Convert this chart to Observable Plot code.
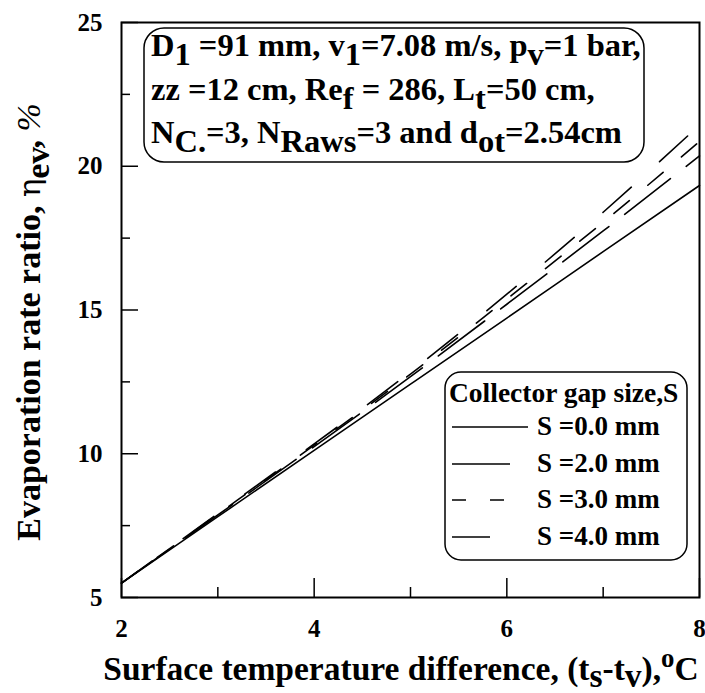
<!DOCTYPE html>
<html>
<head>
<meta charset="utf-8">
<script src="https://cdn.jsdelivr.net/npm/d3@7"></script>
<script src="https://cdn.jsdelivr.net/npm/@observablehq/plot@0.6"></script>
<style>
  html, body { margin: 0; padding: 0; background: #fff; }
  svg { display: block; }
</style>
</head>
<body>
<div id="chart"></div>
<script>
// ---- data ----
const temps = [2, 3, 4, 5, 6, 7, 8];
const gapS00 = [5.5, 7.81, 10.12, 12.42, 14.72, 17.03, 19.33];
const gapS20 = [5.5, 7.87, 10.25, 12.68, 15.2, 17.75, 20.36];
const gapS30 = [5.5, 7.9, 10.3, 12.77, 15.38, 18.05, 20.86];
const gapS40 = [5.5, 7.92, 10.34, 12.85, 15.55, 18.4, 21.43];
const seriesNames = ["S =0.0 mm", "S =2.0 mm", "S =3.0 mm", "S =4.0 mm"];
const xTicks = [2, 4, 6, 8];
const xMinorTicks = [3, 5, 7];
const yTicks = [5, 10, 15, 20, 25];
const yMinorTicks = [7.5, 12.5, 17.5, 22.5];

const toRows = (vals) => temps.map((t, i) => ({t, v: vals[i]}));

const W = 705, H = 693;
const mL = 121, mR = 6, mT = 22, mB = 96;
const plotW = W - mL - mR, plotH = H - mT - mB;
const FONT = "'Liberation Serif', 'Times New Roman', Times, serif";

const lineOpts = {x: "t", y: "v", stroke: "black", strokeWidth: 1.6, curve: "natural"};

const chart = Plot.plot({
  width: W, height: H,
  marginLeft: mL, marginRight: mR, marginTop: mT, marginBottom: mB,
  style: {fontFamily: FONT, fontWeight: "bold", fontSize: "25px", background: "#fff", color: "black"},
  x: {domain: [2, 8]},
  y: {domain: [5, 25]},
  marks: [
    Plot.line(toRows(gapS00), {...lineOpts}),
    Plot.line(toRows(gapS20), {...lineOpts, strokeDasharray: "58,20"}),
    Plot.line(toRows(gapS30), {...lineOpts, strokeDasharray: "20,24"}),
    Plot.line(toRows(gapS40), {...lineOpts, strokeDasharray: "38,38"}),
    Plot.ruleX(xTicks, {insetTop: plotH - 19, stroke: "black", strokeWidth: 1.5}),
    Plot.ruleX(xMinorTicks, {insetTop: plotH - 10, stroke: "black", strokeWidth: 1.5}),
    Plot.ruleY(yTicks, {insetRight: plotW - 17, stroke: "black", strokeWidth: 1.5}),
    Plot.ruleY(yMinorTicks, {insetRight: plotW - 9, stroke: "black", strokeWidth: 1.5}),
    Plot.axisX({ticks: xTicks, tickFormat: d => String(d), tickSize: 0, tickPadding: 22, label: null, fontSize: 25, fontWeight: "bold"}),
    Plot.axisY({ticks: yTicks, tickFormat: d => String(d), tickSize: 0, tickPadding: 19, label: null, fontSize: 25, fontWeight: "bold"}),
    Plot.frame({stroke: "black", strokeWidth: 2})
  ]
});
document.getElementById("chart").appendChild(chart);

// ---- text annotations with subscripts ----
const svg = d3.select(chart);

function richText(g, x, y, parts, size, opts = {}) {
  const t = g.append("text")
    .attr("x", x).attr("y", y)
    .attr("font-family", FONT)
    .attr("font-weight", "bold")
    .attr("font-size", size)
    .attr("text-anchor", opts.anchor || "start")
    .attr("fill", "black");
  if (opts.transform) t.attr("transform", opts.transform);
  const subK = opts.sub ?? 0.3;
  let shift = 0;
  for (const p of parts) {
    const s = typeof p === "string" ? {t: p} : p;
    const target = s.sub ? subK * size : s.sup ? -0.38 * size : 0;
    const ts = t.append("tspan").text(s.t).attr("dy", target - shift);
    shift = target;
    if (s.size) ts.attr("font-size", s.size * size);
    if (s.normal) ts.attr("font-weight", "normal");
    if (s.family) ts.attr("font-family", s.family);
    if (s.italic) ts.attr("font-style", "italic");
  }
  return t;
}

// info box
const info = svg.append("g");
info.append("rect").attr("x", 144).attr("y", 28).attr("width", 500).attr("height", 134)
  .attr("rx", 20).attr("fill", "white").attr("stroke", "black").attr("stroke-width", 1.5);
const infoSize = 32.5;
richText(info, 151, 56, ["D", {t: "1", sub: true}, " =91 mm, v", {t: "1", sub: true}, "=7.08 m/s, p", {t: "v", sub: true}, "=1 bar,"], infoSize, {sub: 0.27});
richText(info, 151, 100, ["zz =12 cm, Re", {t: "f", sub: true}, " = 286, L", {t: "t", sub: true}, "=50 cm,"], infoSize, {sub: 0.27});
richText(info, 151, 143, ["N", {t: "C.", sub: true}, "=3, N", {t: "Raws", sub: true}, "=3 and d", {t: "ot", sub: true}, "=2.54cm"], infoSize, {sub: 0.27});

// legend
const lg = svg.append("g");
lg.append("rect").attr("x", 445).attr("y", 372).attr("width", 242).attr("height", 188)
  .attr("rx", 16).attr("fill", "white").attr("stroke", "black").attr("stroke-width", 1.5);
richText(lg, 449, 402, ["Collector gap size,S"], 27.5);
const legendRowsY = [435, 472, 508, 545];
const legendDash = [null, null, "14,24", null];
const legendLen = [76, 58, 58, 38];
seriesNames.forEach((name, i) => {
  const y = legendRowsY[i];
  const ln = lg.append("line").attr("x1", 452).attr("x2", 452 + legendLen[i])
    .attr("y1", y - 8).attr("y2", y - 8).attr("stroke", "black").attr("stroke-width", 1.6);
  if (legendDash[i]) ln.attr("stroke-dasharray", legendDash[i]);
  richText(lg, 537, y, [name], 27);
});

// axis titles
richText(svg, 401, 680, ["Surface temperature difference, (t", {t: "s", sub: true}, "-t", {t: "v", sub: true}, "),", {t: "o", sup: true, size: 0.8}, "C"], 33.5, {anchor: "middle", sub: 0.2});
richText(svg, 0, 0, ["Evaporation rate ratio, ", {t: "η", normal: true, family: "'DejaVu Serif', serif", size: 0.9}, {t: "ev", sub: true}, ", ", {t: "%", normal: true, italic: true}], 34,
  {anchor: "middle", transform: "translate(40,322) rotate(-90)", sub: 0.25});
</script>
</body>
</html>
